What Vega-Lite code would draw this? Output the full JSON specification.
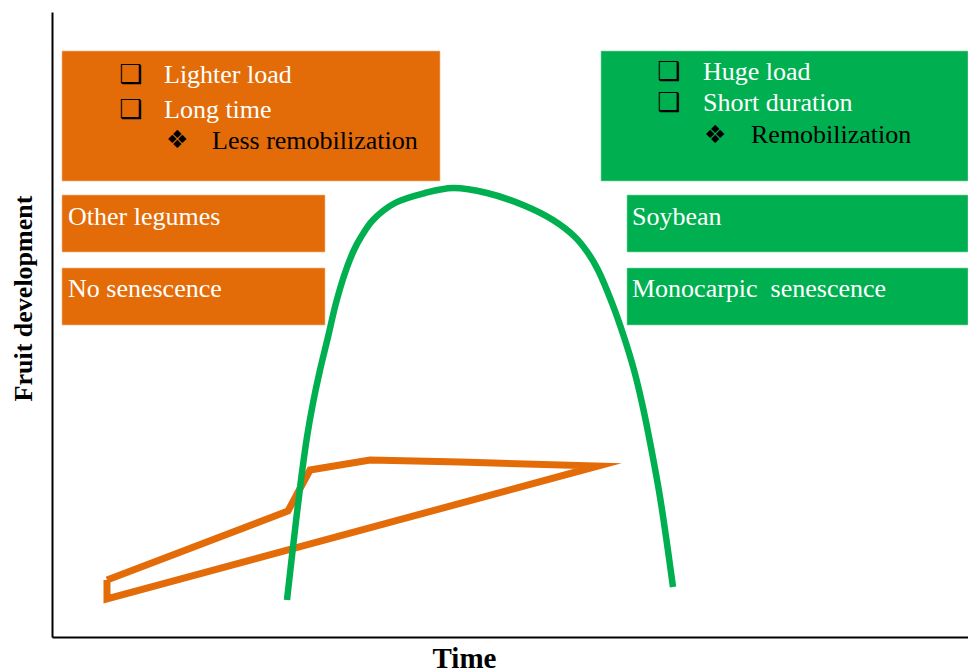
{
  "$schema": "https://vega.github.io/schema/vega-lite/v6.json",
  "width": 916,
  "height": 625,
  "autosize": {"type": "none"},
  "padding": {"left": 52, "top": 12, "right": 0, "bottom": 33},
  "background": "white",
  "config": {"view": {"stroke": null}},
  "datasets": {
    "boxes": [
      {"grp": "Other legumes", "t": 10, "t2": 388, "v": 456, "v2": 586},
      {"grp": "Other legumes", "t": 10, "t2": 273, "v": 385, "v2": 442},
      {"grp": "Other legumes", "t": 10, "t2": 273, "v": 312, "v2": 369},
      {"grp": "Soybean", "t": 549, "t2": 916, "v": 456, "v2": 586},
      {"grp": "Soybean", "t": 575, "t2": 916, "v": 385, "v2": 442},
      {"grp": "Soybean", "t": 575, "t2": 916, "v": 312, "v2": 369}
    ],
    "orange": [
      {"o": 1, "t": 55, "v": 57},
      {"o": 2, "t": 236, "v": 126},
      {"o": 3, "t": 258, "v": 167},
      {"o": 4, "t": 318, "v": 177},
      {"o": 5, "t": 408, "v": 175},
      {"o": 6, "t": 546, "v": 171},
      {"o": 7, "t": 55, "v": 38},
      {"o": 8, "t": 55, "v": 57}
    ],
    "green": [
      {"t": 235, "v": 37},
      {"t": 241, "v": 90},
      {"t": 249, "v": 157},
      {"t": 255, "v": 200},
      {"t": 261, "v": 234},
      {"t": 268, "v": 267},
      {"t": 276, "v": 300},
      {"t": 284, "v": 334},
      {"t": 294, "v": 367},
      {"t": 302, "v": 387},
      {"t": 309, "v": 400},
      {"t": 321, "v": 417},
      {"t": 343, "v": 434},
      {"t": 373, "v": 444},
      {"t": 401, "v": 449},
      {"t": 435, "v": 444},
      {"t": 471, "v": 432},
      {"t": 501, "v": 417},
      {"t": 523, "v": 400},
      {"t": 536, "v": 384},
      {"t": 546, "v": 367},
      {"t": 560, "v": 334},
      {"t": 572, "v": 300},
      {"t": 582, "v": 267},
      {"t": 590, "v": 234},
      {"t": 597, "v": 200},
      {"t": 608, "v": 140},
      {"t": 621, "v": 50}
    ],
    "labels": [
      {"label": "Lighter load", "kind": "white", "t": 112, "v": 554},
      {"label": "Long time", "kind": "white", "t": 112, "v": 519},
      {"label": "Less remobilization", "kind": "black", "t": 160, "v": 488},
      {"label": "Huge load", "kind": "white", "t": 651, "v": 557},
      {"label": "Short duration", "kind": "white", "t": 651, "v": 526},
      {"label": "Remobilization", "kind": "black", "t": 699, "v": 494},
      {"label": "Other legumes", "kind": "white", "t": 16, "v": 412},
      {"label": "No senescence", "kind": "white", "t": 16, "v": 340},
      {"label": "Soybean", "kind": "white", "t": 580, "v": 412},
      {"label": "Monocarpic\u00a0 senescence", "kind": "white", "t": 580, "v": 340}
    ],
    "squares": [
      {"sym": "❑", "t": 67, "v": 554},
      {"sym": "❑", "t": 67, "v": 519},
      {"sym": "❑", "t": 605, "v": 557},
      {"sym": "❑", "t": 605, "v": 526}
    ],
    "diamonds": [
      {"sym": "❖", "t": 114, "v": 497},
      {"sym": "❖", "t": 652, "v": 502}
    ]
  },
  "layer": [
    {
      "data": {"name": "boxes"},
      "mark": {"type": "rect", "strokeWidth": 1, "strokeOpacity": 0.6},
      "encoding": {
        "x": {"field": "t", "type": "quantitative", "scale": {"domain": [0, 916], "nice": false, "zero": false},
          "axis": {"title": "Time", "domain": true, "domainColor": "black", "domainWidth": 2, "ticks": false, "labels": false, "grid": false,
            "titleFont": "Liberation Serif", "titleFontSize": 29, "titleFontWeight": "bold", "titleColor": "black",
            "titleX": 412, "titleY": 30, "titleBaseline": "alphabetic", "titleAlign": "center"}},
        "x2": {"field": "t2"},
        "y": {"field": "v", "type": "quantitative", "scale": {"domain": [0, 625], "nice": false, "zero": false},
          "axis": {"title": "Fruit development", "domain": true, "domainColor": "black", "domainWidth": 2, "ticks": false, "labels": false, "grid": false,
            "titleFont": "Liberation Serif", "titleFontSize": 26, "titleFontWeight": "bold", "titleColor": "black",
            "titleX": -29, "titleY": 286, "titleAngle": 270, "titleBaseline": "middle", "titleAlign": "center"}},
        "y2": {"field": "v2"},
        "fill": {"field": "grp", "type": "nominal", "scale": {"domain": ["Other legumes", "Soybean"], "range": ["#E36C09", "#00B050"]}, "legend": null},
        "stroke": {"field": "grp", "type": "nominal", "scale": {"domain": ["Other legumes", "Soybean"], "range": ["#F3B88A", "#7FD8A7"]}, "legend": null}
      }
    },
    {
      "data": {"name": "orange"},
      "mark": {"type": "line", "color": "#E36C09", "strokeWidth": 7, "strokeJoin": "miter", "strokeMiterLimit": 30, "strokeCap": "butt"},
      "encoding": {
        "x": {"field": "t", "type": "quantitative"},
        "y": {"field": "v", "type": "quantitative"},
        "order": {"field": "o", "type": "quantitative"}
      }
    },
    {
      "data": {"name": "green"},
      "mark": {"type": "line", "color": "#00B050", "strokeWidth": 6.5, "interpolate": "catmull-rom", "strokeCap": "butt"},
      "encoding": {
        "x": {"field": "t", "type": "quantitative"},
        "y": {"field": "v", "type": "quantitative"}
      }
    },
    {
      "data": {"name": "labels"},
      "mark": {"type": "text", "font": "Liberation Serif", "fontSize": 26, "align": "left", "baseline": "alphabetic"},
      "encoding": {
        "x": {"field": "t", "type": "quantitative"},
        "y": {"field": "v", "type": "quantitative"},
        "text": {"field": "label"},
        "color": {"field": "kind", "type": "nominal", "scale": {"domain": ["white", "black"], "range": ["#FFFFFF", "#000000"]}, "legend": null}
      }
    },
    {
      "data": {"name": "squares"},
      "mark": {"type": "text", "font": "DejaVu Sans", "fontSize": 26, "fontWeight": "bold", "align": "left", "baseline": "alphabetic", "color": "black"},
      "encoding": {
        "x": {"field": "t", "type": "quantitative"},
        "y": {"field": "v", "type": "quantitative"},
        "text": {"field": "sym"}
      }
    },
    {
      "data": {"name": "diamonds"},
      "mark": {"type": "text", "font": "DejaVu Sans", "fontSize": 25, "align": "left", "baseline": "middle", "color": "black"},
      "encoding": {
        "x": {"field": "t", "type": "quantitative"},
        "y": {"field": "v", "type": "quantitative"},
        "text": {"field": "sym"}
      }
    }
  ],
  "resolve": {"scale": {"color": "independent", "fill": "independent", "stroke": "independent"}}
}
